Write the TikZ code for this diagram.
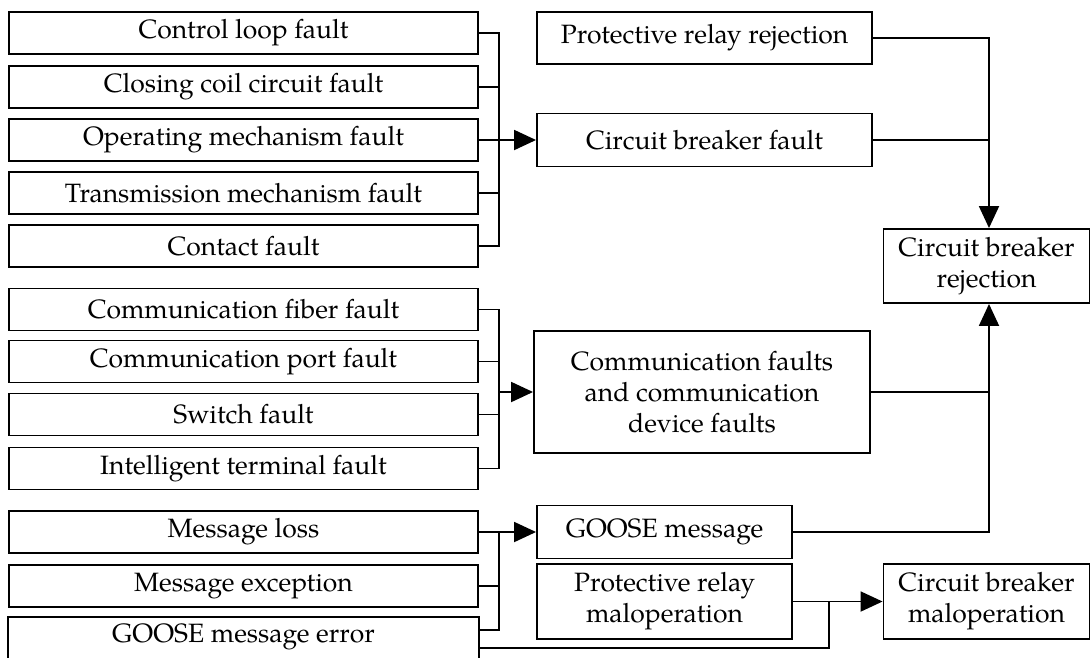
\documentclass[tikz,border=0pt]{standalone}
\usepackage{fontspec}
\setmainfont{TeX Gyre Pagella}
\usetikzlibrary{arrows.meta}
\begin{document}
\begin{tikzpicture}[x=1pt,y=-1pt,
  box/.style={draw, line width=1.9pt, inner sep=0pt, align=center, font=\fontsize{26.5}{31}\selectfont},
  lbox/.style={box, minimum width=469pt, minimum height=42pt},
  conn/.style={line width=1.9pt},
  arr/.style={conn, -{Triangle[length=22pt,width=20pt]}}]
\useasboundingbox (0,0) rectangle (1092,657);
\fill[white] (0,0) rectangle (1092,657);
\clip (0,0) rectangle (1092,657);

% left column, group 1
\node[lbox] (a1) at (243.5,33) {Control loop fault};
\node[lbox] (a2) at (243.5,87) {Closing coil circuit fault};
\node[lbox] (a3) at (243.5,140) {Operating mechanism fault};
\node[lbox] (a4) at (243.5,193) {Transmission mechanism fault};
\node[lbox] (a5) at (243.5,246) {Contact fault};
% group 2
\node[lbox] (c1) at (243.5,309.5) {Communication fiber fault};
\node[lbox] (c2) at (243.5,361.5) {Communication port fault};
\node[lbox] (c3) at (243.5,414.5) {Switch fault};
\node[lbox] (c4) at (243.5,468.5) {Intelligent terminal fault};
% group 3
\node[lbox] (m1) at (243.5,532) {Message loss};
\node[lbox] (m2) at (243.5,586) {Message exception};
\node[lbox, draw=none, minimum height=38pt] (m3) at (243.5,637) {GOOSE message error};
\draw[conn] ([yshift=-20pt]m3.south west) -- (m3.north west) -- (m3.north east) -- ([yshift=-20pt]m3.south east);

% middle column
\node[box, minimum width=335pt, minimum height=52pt] (prr) at (704.5,38) {Protective relay rejection};
\node[box, minimum width=335pt, minimum height=53pt] (cbf) at (704.5,140) {Circuit breaker fault};
\node[box, minimum width=336pt, minimum height=122pt] (comm) at (702,392) {Communication faults\\and communication\\device faults};
\node[box, minimum width=255pt, minimum height=53pt] (gm) at (664.5,532) {GOOSE message};
\node[box, minimum width=255pt, minimum height=75pt] (prm) at (664.5,601.5) {Protective relay\\maloperation};

% right column
\node[box, minimum width=206pt, minimum height=74pt] (cbr) at (986.5,266) {Circuit breaker\\rejection};
\node[box, minimum width=206pt, minimum height=75pt] (cbm) at (986.5,601.5) {Circuit breaker\\maloperation};

\coordinate (busx) at (499,0);
\coordinate (rx) at (989,0);
\coordinate (jx) at (829,0);

% group 1 connectors
\draw[conn] (a1.east) -- (a1.east -| busx) -- (a5.east -| busx) -- (a5.east);
\foreach \n in {a2,a3,a4} \draw[conn] (\n.east) -- (\n.east -| busx);
\draw[arr] (a3.east -| busx) -- (cbf.west);

% group 2 connectors
\draw[conn] (c1.east) -- (c1.east -| busx) -- (c4.east -| busx) -- (c4.east);
\foreach \n in {c2,c3} \draw[conn] (\n.east) -- (\n.east -| busx);
\draw[arr] (comm.west -| busx) -- (comm.west);

% group 3 connectors
\coordinate (m3a) at ([yshift=7pt]m3.east);
\coordinate (m3b) at ([yshift=-11pt]m3.east);
\draw[conn] (m1.east) -- (m1.east -| busx) -- (m3a -| busx) -- (m3a);
\draw[conn] (m2.east) -- (m2.east -| busx);
\draw[arr] (m1.east -| busx) -- (gm.west);
\coordinate (jm) at (prm.east -| jx);
\draw[conn] (m3b) -| (jm);
\draw[arr] (prm.east) -- (cbm.west);

% right connectors
\draw[arr] (prr.east) -- (prr.east -| rx) -- (cbr.north -| rx);
\draw[conn] (cbf.east) -- (cbf.east -| rx);
\draw[arr] (gm.east) -- (gm.east -| rx) -- (cbr.south -| rx);
\draw[conn] (comm.east) -- (comm.east -| rx);
\end{tikzpicture}
\end{document}
